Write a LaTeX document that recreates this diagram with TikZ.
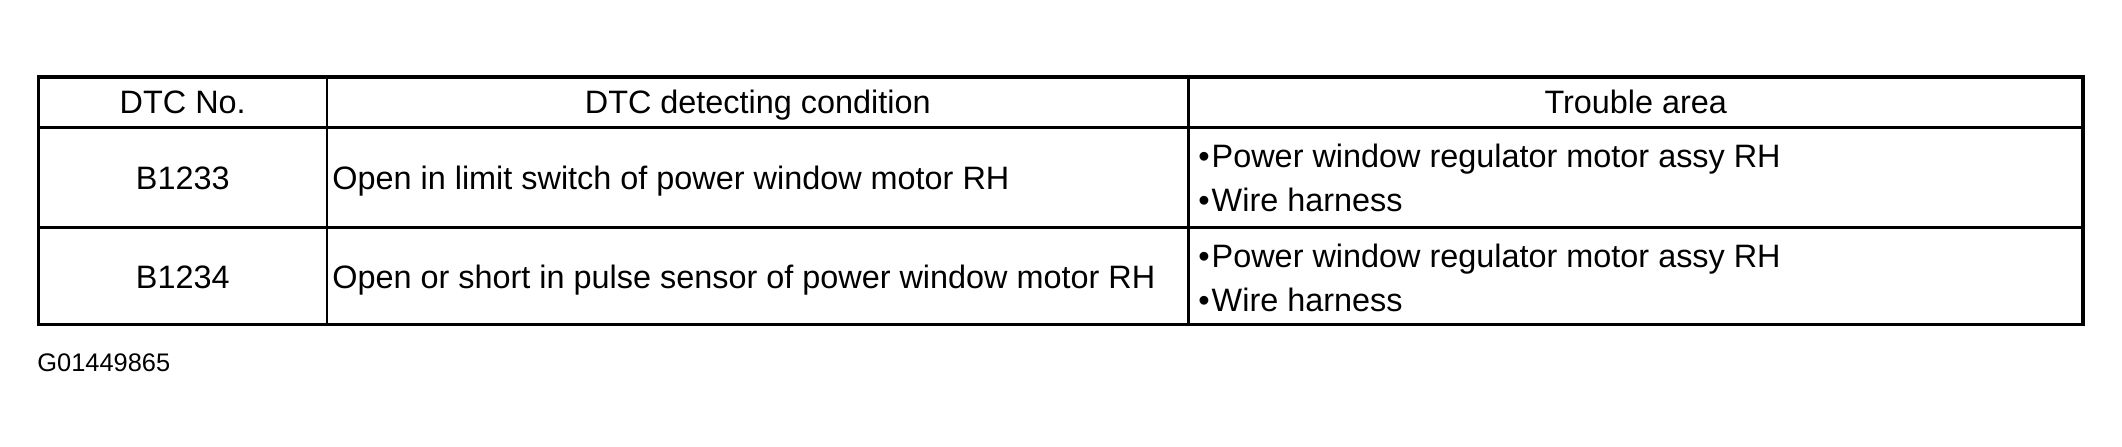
\documentclass[tikz,border=0pt]{standalone}
\usepackage{fontspec}
\setmainfont{Liberation Sans}
\usetikzlibrary{positioning}

\begin{document}
\begin{tikzpicture}[x=0.5pt,y=-0.5pt]
		\tikzset{cell/.style={inner sep=0pt,anchor=base,font=\fontsize{16.2}{19}\selectfont}}
		\tikzset{cellleft/.style={cell,anchor=base west}}
		\tikzset{frame/.style={line width=1.55pt}}
		\tikzset{hrule/.style={line width=1.65pt}}
		\tikzset{vrule/.style={line width=1.35pt}}
		\useasboundingbox (0,0) rectangle (2122,446);
		% corners and rule ends of the table
		\coordinate (nw) at (38.5,77);
		\coordinate (se) at (2083,324.5);
		\coordinate (l1) at (38.5,127.5);
		\coordinate (r1) at (2083,127.5);
		\coordinate (l2) at (38.5,227.5);
		\coordinate (r2) at (2083,227.5);
		\coordinate (c1t) at (327,77);
		\coordinate (c1b) at (327,324.5);
		\coordinate (c2t) at (1188.5,77);
		\coordinate (c2b) at (1188.5,324.5);
		\draw[hrule] (l1) -- (r1);
		\draw[hrule] (l2) -- (r2);
		\draw[vrule] (c1t) -- (c1b);
		\draw[vrule] (c2t) -- (c2b);
		\draw[frame] (nw) rectangle (se);
		% header
		\node[cell] (hno) at (182.75,113) {DTC No.};
		\node[cell] (hcond) at (757.75,113) {DTC detecting condition};
		\node[cell] (harea) at (1635.75,113) {Trouble area};
		% first row
		\node[cell] (code1) at (182.75,189) {B1233};
		\node[cellleft] (cond1) at (332,189) {Open in limit switch of power window motor RH};
		\node[cellleft] (area1a) at (1198,167) {•\kern1pt Power window regulator motor assy RH};
		\node[cellleft] (area1b) at (1198,211) {•\kern1pt Wire harness};
		% second row
		\node[cell] (code2) at (182.75,288) {B1234};
		\node[cellleft] (cond2) at (332,288) {Open or short in pulse sensor of power window motor RH};
		\node[cellleft] (area2a) at (1198,267.5) {•\kern1pt Power window regulator motor assy RH};
		\node[cellleft] (area2b) at (1198,311.5) {•\kern1pt Wire harness};
		% figure number
		\node[cellleft,font=\fontsize{12.7}{15}\selectfont] (fig) at (37,371) {G01449865};
	\end{tikzpicture}
\end{document}
